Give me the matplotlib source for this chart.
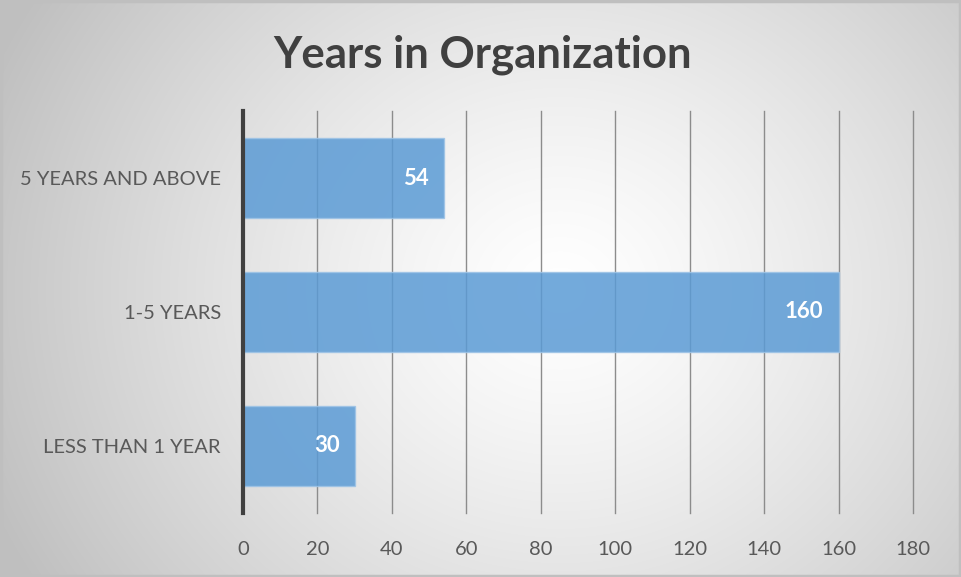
import numpy as np
import matplotlib
matplotlib.use("Agg")
from matplotlib import pyplot as plt

categories = ["LESS THAN 1 YEAR", "1-5 YEARS", "5 YEARS AND ABOVE"]
counts = [30, 160, 54]
x_ticks = [0, 20, 40, 60, 80, 100, 120, 140, 160, 180]

plt.rcParams['font.family'] = ['Lato', 'DejaVu Sans']

fig = plt.figure(figsize=(9.62, 5.77), dpi=100)

# radial gradient background, light in the middle and grey at the corners
bg = fig.add_axes([0, 0, 1, 1], zorder=0)
yy, xx = np.mgrid[0:577, 0:962]
dist = np.sqrt(((xx - 560) / 620.0) ** 2 + ((yy - 290) / 560.0) ** 2)
shade = 1.0 - 0.25 * np.clip(dist, 0, 1) ** 1.3
bg.imshow(np.dstack([shade, shade, shade]), aspect='auto', extent=[0, 1, 0, 1])
bg.set_xlim(0, 1)
bg.set_ylim(0, 1)
bg.axis('off')
fig.patches.append(plt.Rectangle((0.001, 0.002), 0.997, 0.996, transform=fig.transFigure,
                                 fill=False, edgecolor='#bfbfbf', linewidth=2.5))

ax = fig.add_axes([0.2526, 0.111, 0.6965, 0.6966], zorder=1)
ax.patch.set_alpha(0)

ypos = np.arange(len(categories))
bars = ax.barh(ypos, counts, height=0.6, color='#5b9bd5', alpha=0.85,
               edgecolor='#9dc3e6', linewidth=1, zorder=3)

for b, v in zip(bars, counts):
    ax.annotate(str(v), xy=(v, b.get_y() + b.get_height() / 2), xytext=(-11, 0),
                textcoords='offset points', ha='right', va='center',
                color='white', fontsize=16, fontweight='bold', zorder=4)

ax.set_xlim(0, 180)
ax.set_ylim(-0.5, 2.5)
ax.set_xticks(x_ticks)
ax.set_yticks(ypos)
ax.set_yticklabels(categories)
ax.grid(axis='x', color='#8c8c8c', linewidth=1, zorder=1)
for gl in ax.get_xgridlines():
    gl.set_clip_on(False)
ax.set_axisbelow(True)
ax.tick_params(axis='both', length=0, labelsize=14.5, colors='#595959')
ax.tick_params(axis='x', pad=20)
ax.tick_params(axis='y', pad=16)
for s in ['top', 'right', 'bottom']:
    ax.spines[s].set_visible(False)
ax.spines['left'].set_color('#404040')
ax.spines['left'].set_linewidth(3)
ax.spines['left'].set_zorder(5)

fig.text(0.5016, 0.905, "Years in Organization", ha='center', va='center',
         fontsize=31.5, fontweight='bold', color='#404040')

fig.savefig("out.png", dpi=100)
